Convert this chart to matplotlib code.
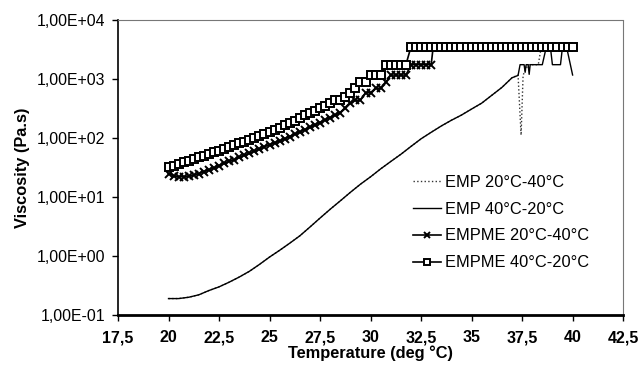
import matplotlib
matplotlib.use("Agg")
import matplotlib.pyplot as plt
from matplotlib.ticker import FixedLocator, FuncFormatter, NullLocator

plt.rcParams['font.family'] = ['Liberation Sans', 'DejaVu Sans']

# EMP 40-20 (linea continua)
emp_40_20_t = [20.0, 20.5, 21.0, 21.5, 22.0, 22.5, 23.0, 23.5, 24.0, 24.5, 25.0, 25.5,
               26.0, 26.5, 27.0, 27.5, 28.0, 28.5, 29.0, 29.5, 30.0, 30.5, 31.0, 31.5,
               32.0, 32.5, 33.0, 33.5, 34.0, 34.5, 35.0, 35.5, 36.0, 36.5, 37.0, 37.3,
               37.4, 37.6, 37.65, 37.7, 37.8, 37.85, 37.9, 38.5, 38.7, 38.9, 39.0, 39.4,
               39.5, 39.7, 40.0]
emp_40_20_v = [0.19, 0.19, 0.20, 0.22, 0.26, 0.30, 0.36, 0.44, 0.55, 0.72, 0.96, 1.25,
               1.65, 2.2, 3.1, 4.4, 6.2, 8.6, 12, 16.5, 22, 30, 40, 53,
               72, 97, 125, 160, 200, 245, 310, 390, 530, 720, 1050, 1150,
               1750, 1750, 1300, 1750, 1750, 1200, 1750, 1750, 3500, 3500, 1750, 1750,
               3500, 3500, 1170]

# EMP 20-40 (punteada)
emp_20_40_t = [20.0, 20.5, 21.0, 21.5, 22.0, 22.5, 23.0, 23.5, 24.0, 24.5, 25.0, 25.5,
               26.0, 26.5, 27.0, 27.5, 28.0, 28.5, 29.0, 29.5, 30.0, 30.5, 31.0, 31.5,
               32.0, 32.5, 33.0, 33.5, 34.0, 34.5, 35.0, 35.5, 36.0, 36.5, 37.0, 37.3,
               37.45, 37.55, 37.8, 38.3, 38.45, 40.0]
emp_20_40_v = [0.19, 0.19, 0.20, 0.22, 0.26, 0.30, 0.36, 0.44, 0.55, 0.72, 0.96, 1.25,
               1.65, 2.2, 3.1, 4.4, 6.2, 8.6, 12, 16.5, 22, 30, 40, 53,
               72, 97, 125, 160, 200, 245, 310, 390, 530, 720, 1050, 1167,
               112, 1167, 1750, 1750, 3500, 3500]

# EMPME 20-40 (cruces)
empme_20_40_t = [20.0, 20.25, 20.5, 20.75, 21.0, 21.25, 21.5, 21.75, 22.0, 22.25, 22.5, 22.75,
                 23.0, 23.25, 23.5, 23.75, 24.0, 24.25, 24.5, 24.75, 25.0, 25.25, 25.5, 25.75,
                 26.0, 26.25, 26.5, 26.75, 27.0, 27.25, 27.5, 27.75, 28.0, 28.25, 28.5, 28.75,
                 29.0, 29.25, 29.5, 29.75, 30.0, 30.25, 30.5, 30.75, 31.0, 31.25, 31.5, 31.75,
                 32.0, 32.25, 32.5, 32.75, 33.0, 33.1]
empme_20_40_v = [25, 23, 22, 22, 22.5, 23.5, 25, 27, 29, 31, 34, 37,
                 40, 43, 47, 51, 55, 60, 65, 71, 77, 83, 88, 97,
                 106, 116, 127, 139, 152, 167, 183, 203, 222, 246, 269, 318,
                 389, 437.5, 437.5, 583, 583, 700, 700, 875, 1167, 1167, 1167, 1167,
                 1750, 1750, 1750, 1750, 1750, 3500]

# EMPME 40-20 (cuadros)
empme_40_20_t = [20.0, 20.25, 20.5, 20.75, 21.0, 21.25, 21.5, 21.75, 22.0, 22.25, 22.5, 22.75,
                 23.0, 23.25, 23.5, 23.75, 24.0, 24.25, 24.5, 24.75, 25.0, 25.25, 25.5, 25.75,
                 26.0, 26.25, 26.5, 26.75, 27.0, 27.25, 27.5, 27.75, 28.0, 28.25, 28.5, 28.75,
                 29.0, 29.25, 29.5, 29.75, 30.0, 30.25, 30.5, 30.75, 31.0, 31.25, 31.5, 31.75,
                 32.0, 32.25, 32.5, 32.75, 33.0, 33.25, 33.5, 33.75, 34.0, 34.25, 34.5, 34.75,
                 35.0, 35.25, 35.5, 35.75, 36.0, 36.25, 36.5, 36.75, 37.0, 37.25, 37.5, 37.75,
                 38.0, 38.25, 38.5, 38.75, 39.0, 39.25, 39.5, 39.75, 40.0]
empme_40_20_v = [32, 34, 36.5, 39, 41.5, 44.5, 47, 50, 53.5, 57, 61, 65,
                 69.5, 75, 81, 87, 94, 101, 109, 118, 127, 137, 148, 163,
                 180, 198, 219, 241, 266, 292, 318, 350, 389, 437.5, 437.5, 500,
                 583, 700, 875, 875, 1167, 1167, 1167, 1750, 1750, 1750, 1750, 1750,
                 3500, 3500, 3500, 3500, 3500, 3500, 3500, 3500, 3500, 3500, 3500, 3500,
                 3500, 3500, 3500, 3500, 3500, 3500, 3500, 3500, 3500, 3500, 3500, 3500,
                 3500, 3500, 3500, 3500, 3500, 3500, 3500, 3500, 3500]

xticks = [17.5, 20, 22.5, 25, 27.5, 30, 32.5, 35, 37.5, 40, 42.5]
yticks = [1e-1, 1e0, 1e1, 1e2, 1e3, 1e4]

fig = plt.figure(figsize=(6.41, 3.66), dpi=100)
ax = fig.add_axes([0.1841, 0.1393, 0.788, 0.806])

ax.plot(emp_20_40_t, emp_20_40_v, linestyle=':', color='#333333', lw=1.0,
        label='EMP 20°C-40°C')
ax.plot(emp_40_20_t, emp_40_20_v, linestyle='-', color='black', lw=1.0,
        label='EMP 40°C-20°C')
ax.plot(empme_20_40_t, empme_20_40_v, linestyle='-', color='black', lw=1.2,
        marker='x', ms=5.5, mew=1.4, label='EMPME 20°C-40°C')
ax.plot(empme_40_20_t, empme_40_20_v, linestyle='-', color='black', lw=1.2,
        marker='s', ms=5.2, mfc='white', mec='black', mew=1.4, label='EMPME 40°C-20°C')

ax.set_yscale('log')
ax.set_xlim(17.5, 42.5)
ax.set_ylim(1e-1, 1e4)
ax.xaxis.set_major_locator(FixedLocator(xticks))
ax.yaxis.set_major_locator(FixedLocator(yticks))
ax.yaxis.set_minor_locator(NullLocator())
ax.xaxis.set_major_formatter(FuncFormatter(lambda v, p: ('%g' % v).replace('.', ',')))
ax.yaxis.set_major_formatter(FuncFormatter(lambda v, p: ('%.2E' % v).replace('.', ',')))

ax.tick_params(axis='both', direction='out', length=4, width=1, colors='black')
ax.tick_params(axis='x', labelsize=11.5, pad=7)
ax.tick_params(axis='y', labelsize=11.4, pad=5)
for lab in ax.get_xticklabels():
    lab.set_fontweight('bold')

ax.spines['left'].set_linewidth(1.2)
ax.spines['bottom'].set_linewidth(2.0)
for s in ['top', 'right']:
    ax.spines[s].set_linestyle((0, (1, 1)))
    ax.spines[s].set_color('#777777')
    ax.spines[s].set_linewidth(0.8)

ax.set_xlabel('Temperature (deg °C)', fontsize=11.8, fontweight='bold', labelpad=0)
ax.set_ylabel('Viscosity (Pa.s)', fontsize=11.8, fontweight='bold', labelpad=5)

ax.legend(loc='upper left', bbox_to_anchor=(0.585, 0.475), frameon=False,
          fontsize=11.8, handlelength=1.7, handletextpad=0.25, labelspacing=0.72,
          borderaxespad=0, borderpad=0, markerscale=0.7)

fig.savefig('out.png', dpi=100)
